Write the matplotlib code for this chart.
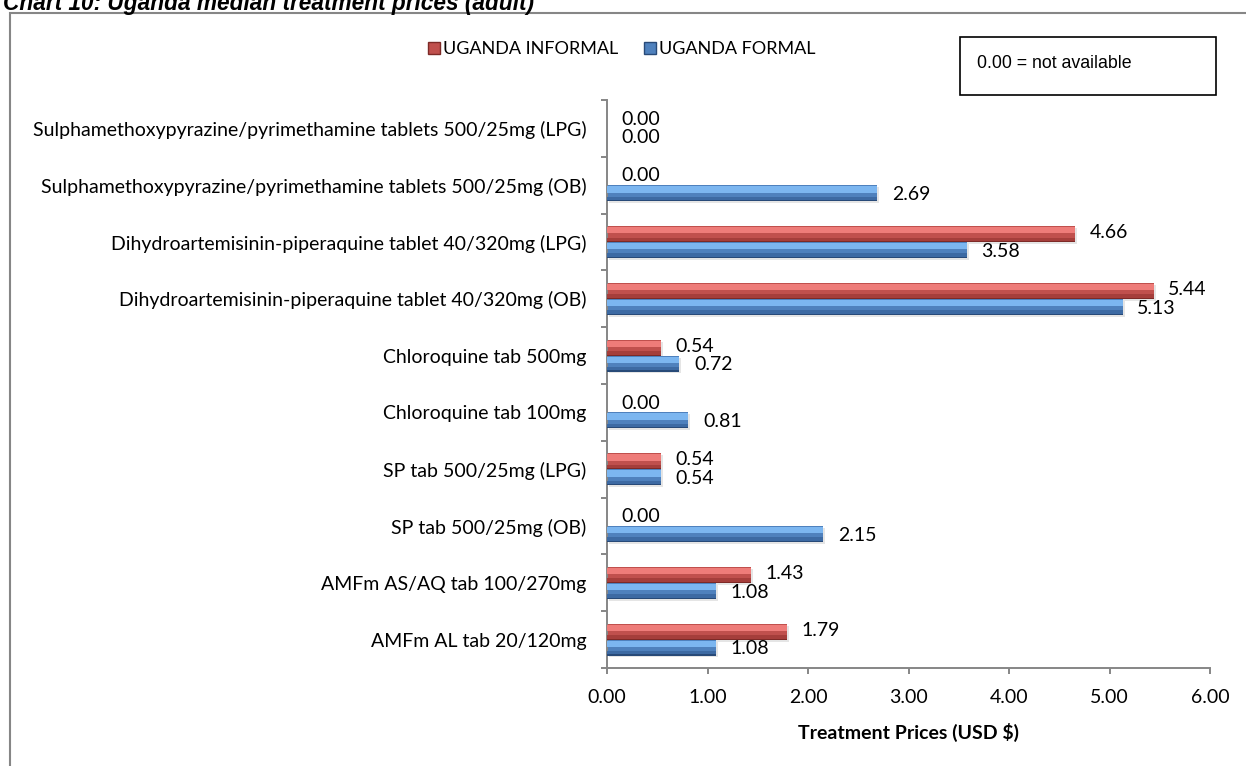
import matplotlib
matplotlib.use("Agg")
import matplotlib.pyplot as plt
from matplotlib.patches import Patch, Rectangle

# data (top of chart first)
categories = [
    "Sulphamethoxypyrazine/pyrimethamine tablets 500/25mg (LPG)",
    "Sulphamethoxypyrazine/pyrimethamine tablets 500/25mg (OB)",
    "Dihydroartemisinin-piperaquine tablet 40/320mg (LPG)",
    "Dihydroartemisinin-piperaquine tablet 40/320mg (OB)",
    "Chloroquine tab 500mg",
    "Chloroquine tab 100mg",
    "SP tab 500/25mg (LPG)",
    "SP tab 500/25mg (OB)",
    "AMFm AS/AQ tab 100/270mg",
    "AMFm AL tab 20/120mg",
]
informal = [0.00, 0.00, 4.66, 5.44, 0.54, 0.00, 0.54, 0.00, 1.43, 1.79]
formal = [0.00, 2.69, 3.58, 5.13, 0.72, 0.81, 0.54, 2.15, 1.08, 1.08]
x_ticks = [0, 1, 2, 3, 4, 5, 6]

FONT = ["Lato", "DejaVu Sans"]
plt.rcParams["font.family"] = FONT
FS = 14

# main, light, mid-dark, edge
RED = ("#c0504d", "#ee7c79", "#a53e3b", "#7d2a27")
BLUE = ("#4f81bd", "#7cb6f0", "#3d6aa3", "#284a78")

fig = plt.figure(figsize=(12.46, 7.66), dpi=100)
W, H = 1246, 766
ax = fig.add_axes([607 / W, 1 - 668 / H, (1210 - 607) / W, (668 - 100) / H])

n = len(categories)
ypos = [n - 1 - i for i in range(n)]
bh = 0.28


def bevel_bars(y, vals, colors):
    main, light, mid, edge = colors
    # soft drop shadow
    ax.barh([v - 0.035 for v in y], vals, height=bh, left=0.02, color="#000000",
            alpha=0.10, zorder=1)
    ax.barh(y, vals, height=bh, color=main, zorder=2)
    ax.barh([v + bh * 0.24 for v in y], vals, height=bh * 0.40, color=light, zorder=3)
    ax.barh([v - bh * 0.34 for v in y], vals, height=bh * 0.24, color=mid, zorder=3)
    ax.barh([v - bh * 0.47 for v in y], vals, height=bh * 0.07, color=edge, zorder=3)


y_red = [v + bh / 2 for v in ypos]
y_blue = [v - bh / 2 for v in ypos]
bevel_bars(y_red, informal, RED)
bevel_bars(y_blue, formal, BLUE)

for y, v in zip(y_red, informal):
    ax.annotate(f"{v:.2f}", (v, y), xytext=(10.5, 1), textcoords="offset points",
                ha="left", va="center", fontsize=FS, color="#000000", zorder=5)
for y, v in zip(y_blue, formal):
    ax.annotate(f"{v:.2f}", (v, y), xytext=(10.5, -1), textcoords="offset points",
                ha="left", va="center", fontsize=FS, color="#000000", zorder=5)

ax.set_xlim(0, 6)
ax.set_ylim(-0.5, n - 0.5)
ax.set_xticks(x_ticks)
ax.set_xticklabels([f"{t:.2f}" for t in x_ticks], fontsize=FS)
ax.set_yticks([i - 0.5 for i in range(n + 1)])
ax.set_yticklabels([])
ax.set_yticks(ypos, minor=True)
ax.set_yticklabels(categories, minor=True, fontsize=FS)
ax.tick_params(axis="y", which="minor", length=0, pad=15)
ax.tick_params(axis="y", which="major", length=4, width=1.4, color="#868686", direction="out")
ax.tick_params(axis="x", length=4.3, width=1.4, color="#868686", direction="out", pad=11)

for s in ["top", "right"]:
    ax.spines[s].set_visible(False)
for s in ["left", "bottom"]:
    ax.spines[s].set_color("#868686")
    ax.spines[s].set_linewidth(1.4)

ax.set_xlabel("Treatment Prices (USD $)", fontsize=FS, fontweight="bold", labelpad=12)

# outer frame (right and bottom edges fall outside the picture)
fig.patches.append(Rectangle((10 / W, -0.2), 2, 1.2 - 13 / H, transform=fig.transFigure,
                             fill=False, edgecolor="#868686", linewidth=1.5))

fig.text(3 / W, 1 - 10 / H, "Chart 10: Uganda median treatment prices (adult)",
         fontsize=16.3, fontweight="bold", fontstyle="italic",
         family=["Liberation Sans", "DejaVu Sans"], va="baseline", ha="left")

handles = [Patch(facecolor=RED[0], edgecolor=RED[3], label="UGANDA INFORMAL"),
           Patch(facecolor=BLUE[0], edgecolor=BLUE[3], label="UGANDA FORMAL")]
fig.legend(handles=handles, loc="center", bbox_to_anchor=(622 / W, 1 - 49 / H), ncol=2,
           frameon=False, fontsize=13, handlelength=0.65, handleheight=0.65,
           handletextpad=0.2, columnspacing=1.4)

# note box
fig.patches.append(Rectangle((960 / W, 1 - 95 / H), 256 / W, 58 / H, transform=fig.transFigure,
                             fill=True, facecolor="white", edgecolor="#000000", linewidth=1.2))
fig.text(977 / W, 1 - 64 / H, "0.00 = not available", fontsize=12.8,
         family=["Liberation Sans", "DejaVu Sans"], va="center", ha="left")

fig.savefig("out.png", dpi=100)
